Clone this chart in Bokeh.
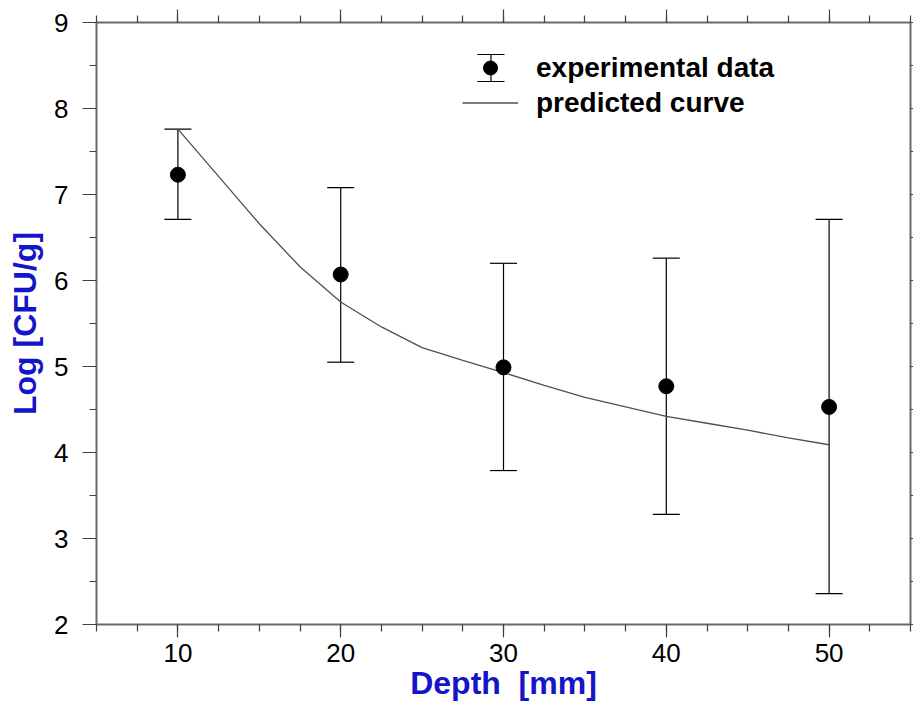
from bokeh.plotting import figure
from bokeh.models import (Range1d, LinearAxis, SingleIntervalTicker, Whisker, TeeHead,
                          ColumnDataSource, Legend, LegendItem)
from bokeh.embed import file_html
from bokeh.resources import INLINE

# ---- data ----
depth = [10, 20, 30, 40, 50]
log_cfu = [7.23, 6.07, 4.99, 4.77, 4.53]
err_upper = [7.76, 7.08, 6.20, 6.26, 6.71]
err_lower = [6.71, 5.05, 3.79, 3.28, 2.36]

curve_depth = [10, 12.5, 15, 17.5, 20, 22.5, 25, 27.5, 30, 32.5, 35, 37.5, 40, 42.5, 45, 47.5, 50]
curve_log = [7.76, 7.21, 6.66, 6.16, 5.75, 5.46, 5.22, 5.07, 4.93, 4.78, 4.64, 4.53, 4.42, 4.34, 4.26, 4.17, 4.09]

x_label = "Depth\u00a0 [mm]"
y_label = "Log [CFU/g]"
legend_labels = ["experimental data", "predicted curve"]

FONT = "Liberation Sans"
BLUE = "#1414c8"
AXIS_GRAY = "#6a6a6a"

p = figure(width=913, height=712, output_backend="svg", toolbar_location=None,
           x_range=Range1d(5, 55), y_range=Range1d(2, 9),
           x_axis_location=None, y_axis_location=None,
           min_border_left=96, min_border_right=3, min_border_top=22, min_border_bottom=88)
p.xgrid.visible = False
p.ygrid.visible = False
p.outline_line_color = None
p.background_fill_color = "white"
p.border_fill_color = "white"


def style_axis(ax, tick_out, minor_out, labels=True, standoff=6):
    ax.axis_line_color = AXIS_GRAY
    ax.axis_line_width = 2
    ax.major_tick_line_color = "#404040"
    ax.minor_tick_line_color = "#404040"
    ax.major_tick_line_width = 1.2
    ax.minor_tick_line_width = 1.2
    ax.major_tick_in = 0
    ax.minor_tick_in = 0
    ax.major_tick_out = tick_out
    ax.minor_tick_out = minor_out
    ax.major_label_text_font = FONT
    ax.major_label_text_color = "black"
    ax.major_label_standoff = standoff
    if labels:
        ax.major_label_text_font_size = "26px"
    else:
        ax.major_label_text_font_size = "1px"
        ax.major_label_text_color = None
        ax.major_label_standoff = 0
    ax.axis_label_text_font = FONT
    ax.axis_label_text_font_style = "bold"
    ax.axis_label_text_color = BLUE
    ax.axis_label_text_font_size = "32px"


xb = LinearAxis(ticker=SingleIntervalTicker(interval=10, num_minor_ticks=4), axis_label=x_label)
style_axis(xb, 13, 7, True, 6)
xb.axis_label_standoff = 0
p.add_layout(xb, "below")

xt = LinearAxis(ticker=SingleIntervalTicker(interval=10, num_minor_ticks=4))
style_axis(xt, 13, 7, False)
p.add_layout(xt, "above")

yl = LinearAxis(ticker=SingleIntervalTicker(interval=1, num_minor_ticks=2), axis_label=y_label)
style_axis(yl, 14, 7, True, 14)
yl.axis_label_standoff = 8
p.add_layout(yl, "left")

yr = LinearAxis(ticker=SingleIntervalTicker(interval=1, num_minor_ticks=2))
style_axis(yr, 3, 3, False)
p.add_layout(yr, "right")

# ---- error bars ----
src = ColumnDataSource(dict(depth=depth, val=log_cfu, lo=err_lower, up=err_upper))
wh = Whisker(source=src, base="depth", lower="lo", upper="up", dimension="height",
             line_color="black", line_width=1.2,
             lower_head=TeeHead(size=27, line_color="black", line_width=1.2),
             upper_head=TeeHead(size=27, line_color="black", line_width=1.2))
p.add_layout(wh)

# ---- predicted curve ----
curve_r = p.line(curve_depth, curve_log, line_color="#505050", line_width=1.3)

# ---- data points ----
pts_r = p.scatter("depth", "val", source=src, size=15, marker="circle",
                  fill_color="black", line_color="black")

# ---- legend ----
legend = Legend(items=[LegendItem(label=legend_labels[0], renderers=[pts_r]),
                       LegendItem(label=legend_labels[1], renderers=[curve_r])],
                location=(366, 504), orientation="vertical",
                glyph_width=56, glyph_height=35, spacing=0, padding=0, margin=0,
                label_standoff=18, border_line_color=None, background_fill_alpha=0,
                label_text_font=FONT, label_text_font_style="bold",
                label_text_font_size="28px", label_text_color="black")
p.add_layout(legend, "center")

# error-bar icon of the legend entry
icon_src = ColumnDataSource(dict(b=[490.5], lo=[81.0], up=[54.0]))
icon = Whisker(source=icon_src, base="b", lower="lo", upper="up", dimension="height",
               base_units="canvas", lower_units="canvas", upper_units="canvas",
               line_color="black", line_width=1.2,
               lower_head=TeeHead(size=27, line_color="black", line_width=1.2),
               upper_head=TeeHead(size=27, line_color="black", line_width=1.2))
p.add_layout(icon)

open("out.html", "w").write(file_html(p, INLINE))
